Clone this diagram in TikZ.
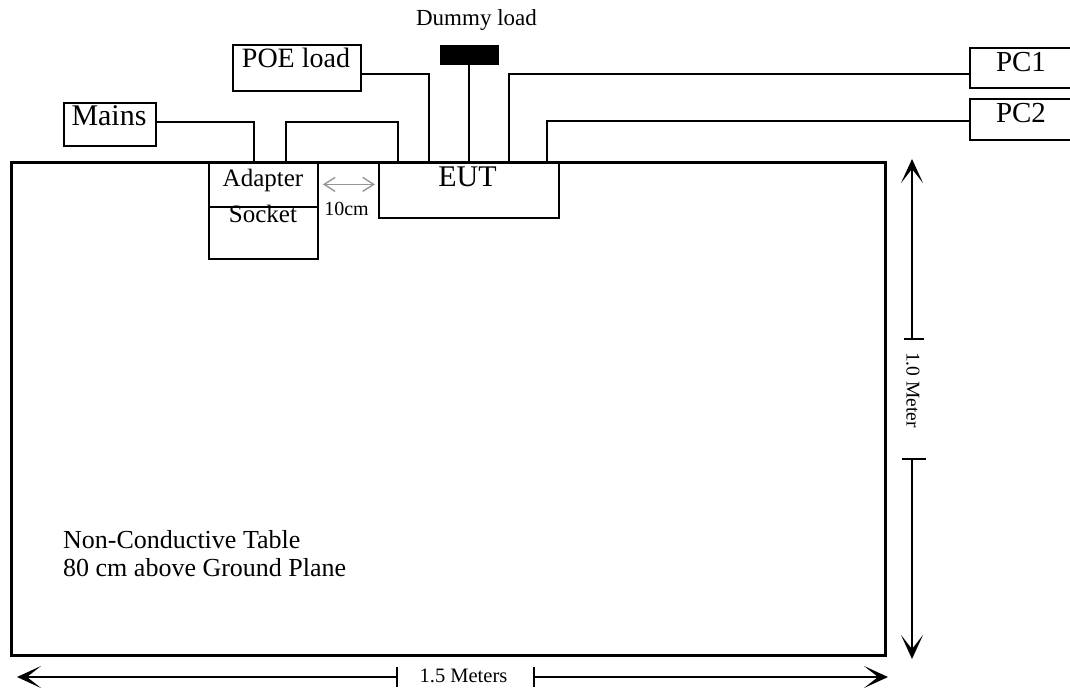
\documentclass[tikz,border=0pt]{standalone}
\usepackage{fontspec}
\setmainfont{Liberation Serif}
\usetikzlibrary{arrows.meta}
\newcommand\fsz[1]{\fontsize{#1}{#1}\selectfont}
\definecolor{dimgrey}{RGB}{150,150,150}
\begin{document}
\begin{tikzpicture}[x=1pt,y=-1pt,
  box/.style={draw, line width=1.8pt, inner sep=0pt, anchor=north west},
  blk/.style={fill=black, draw=black, inner sep=0pt, anchor=north west},
  tablebox/.style={draw, line width=3.3pt, inner sep=0pt, anchor=north west},
  wire/.style={line width=1.8pt},
  lbl/.style={inner sep=0pt, anchor=base},
  dimarrow/.style={line width=1.6pt, -{Stealth[length=24pt,width=22pt,inset=14pt]}},
  tick/.style={line width=1.6pt},
  gap/.style={draw=dimgrey, line width=1.4pt, {Straight Barb[length=11pt,width=14pt]}-{Straight Barb[length=11pt,width=14pt]}}
]
\useasboundingbox (0,0) rectangle (1070,692);
\clip (0,0) rectangle (1070,692);

% table
\node[tablebox, minimum width=874pt, minimum height=493pt] (table) at (10,161) {};

% boxes
\node[box, minimum width=92pt, minimum height=43pt] (mains) at (63,102) {};
\node[box, minimum width=128pt, minimum height=46pt] (poe) at (232,44) {};
\node[blk, minimum width=58pt, minimum height=19pt] (dummy) at (440,45) {};
\node[box, minimum width=120pt, minimum height=40pt] (pc1) at (969,47) {};
\node[box, minimum width=120pt, minimum height=41pt] (pc2) at (969,98) {};
\node[box, minimum width=109pt, minimum height=45pt] (adapter) at (208,161) {};
\node[box, minimum width=109pt, minimum height=52pt] (socket) at (208,206) {};
\node[box, minimum width=180pt, minimum height=56pt] (eut) at (378,161) {};

% labels
\node[lbl, font=\fsz{30}] (mainsT) at (109,126) {Mains};
\node[lbl, font=\fsz{28}] (poeT) at (296,68) {POE load};
\node[lbl, font=\fsz{23}] (dummyT) at (476.5,26) {Dummy load};
\node[lbl, font=\fsz{29}] (pc1T) at (1021,72) {PC1};
\node[lbl, font=\fsz{29}] (pc2T) at (1021,123) {PC2};
\node[lbl, font=\fsz{25}] (adapterT) at (263,187) {Adapter};
\node[lbl, font=\fsz{25}] (socketT) at (263,223) {Socket};
\node[lbl, font=\fsz{30}] (eutT) at (467.5,187) {EUT};
\node[lbl, font=\fsz{20}] (gapT) at (346.5,216) {10cm};
\node[inner sep=0pt, anchor=base west, align=left, font=\fontsize{26}{28}\selectfont] (tableT) at (63,576) {Non-Conductive Table\\80 cm above Ground Plane};

% wires
\draw[wire] ([yshift=2.5pt]mains.east) -| ([xshift=-9.5pt]adapter.north);
\draw[wire] ([xshift=22.5pt]adapter.north) -- ++(0,-39) -| ([xshift=-71pt]eut.north);
\draw[wire] ([yshift=-6pt]poe.east) -| ([xshift=-40pt]eut.north);
\draw[wire] (dummy.south) -- (dummy.south |- eut.north);
\draw[wire] ([yshift=-6pt]pc1.west) -| ([xshift=40pt]eut.north);
\draw[wire] ([yshift=-1.5pt]pc2.west) -| ([xshift=78pt]eut.north);

% 10 cm gap arrow
\draw[gap] ([xshift=4pt]adapter.east) -- ([xshift=-3pt]eut.west |- adapter.east);

% vertical dimension
\coordinate (vt1) at (912,339);
\coordinate (vt2) at (912,459);
\coordinate (vtop) at (912,159);
\coordinate (vbot) at (912,659);
\draw[dimarrow] (vt1) -- (vtop);
\draw[dimarrow] (vt2) -- (vbot);
\draw[tick] ([xshift=-8pt]vt1) -- ([xshift=12pt]vt1);
\draw[tick] ([xshift=-10pt]vt2) -- ([xshift=14pt]vt2);
\node[inner sep=0pt, rotate=-90, font=\fsz{19.5}] (vlabel) at (913,390) {1.0 Meter};

% horizontal dimension
\coordinate (ht1) at (397,677);
\coordinate (ht2) at (534,677);
\coordinate (hleft) at (17,677);
\coordinate (hright) at (888,677);
\draw[dimarrow] (ht1) -- (hleft);
\draw[dimarrow] (ht2) -- (hright);
\draw[tick] ([yshift=10pt]ht1) -- ([yshift=-10pt]ht1);
\draw[tick] ([yshift=10pt]ht2) -- ([yshift=-10pt]ht2);
\node[lbl, font=\fsz{20.5}] (hlabel) at (463.5,682) {1.5 Meters};
\end{tikzpicture}
\end{document}
